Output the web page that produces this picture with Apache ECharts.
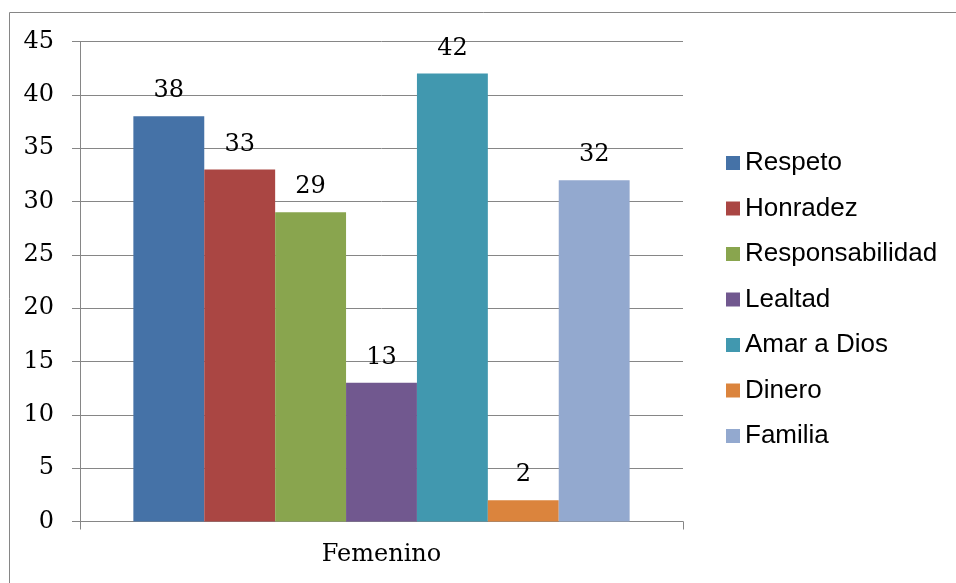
<!DOCTYPE html>
<html>
<head>
<meta charset="utf-8">
<script src="https://cdn.jsdelivr.net/npm/echarts@6/dist/echarts.min.js"></script>
<style>
  html, body { margin: 0; padding: 0; background: #fff; }
  #chart { width: 956px; height: 583px; }
</style>
</head>
<body>
<div id="chart"></div>
<script>
var categories = ['Femenino']
var seriesNames = ['Respeto', 'Honradez', 'Responsabilidad', 'Lealtad', 'Amar a Dios', 'Dinero', 'Familia']
var seriesValues = [38, 33, 29, 13, 42, 2, 32]
var seriesColors = ['#4572A7', '#AA4643', '#89A54E', '#71588F', '#4198AF', '#DB843D', '#93A9CF']
var yTicks = [0, 5, 10, 15, 20, 25, 30, 35, 40, 45]

var serif = 'DejaVu Serif'
var axisGray = '#868686'

var chart = echarts.init(document.getElementById('chart'))

var series = seriesNames.map(function(name, i) {
  return {
    name: name,
    type: 'bar',
    data: [seriesValues[i]],
    barGap: '0%',
    barCategoryGap: '17.7%',
    itemStyle: { color: seriesColors[i] },
    label: {
      show: true,
      position: 'top',
      distance: 13,
      fontFamily: serif,
      fontSize: 24,
      color: '#000'
    }
  }
})

chart.setOption({
  animation: false,
  // outer chart frame, only top and left edges fall inside the picture
  graphic: [{
    type: 'polyline',
    shape: { points: [[9.5, 590], [9.5, 12.5], [960, 12.5]] },
    style: { fill: 'none', stroke: axisGray, lineWidth: 1 },
    silent: true
  }],
  grid: { left: 80, right: 273, top: 41.5, bottom: 61.5 },
  legend: {
    orient: 'vertical',
    left: 726,
    top: 150,
    padding: 0,
    itemWidth: 14,
    itemHeight: 14,
    itemGap: 19.5,
    icon: 'rect',
    data: seriesNames,
    textStyle: {
      fontFamily: 'Liberation Sans',
      fontSize: 26,
      lineHeight: 26,
      color: '#000'
    }
  },
  xAxis: {
    type: 'category',
    data: categories,
    axisLine: { lineStyle: { color: axisGray, width: 1 } },
    axisTick: { show: true, length: 8, lineStyle: { color: axisGray } },
    axisLabel: { fontFamily: serif, fontSize: 24, color: '#000', margin: 21 }
  },
  yAxis: {
    type: 'value',
    min: yTicks[0],
    max: yTicks[yTicks.length - 1],
    interval: 5,
    axisLine: { show: true, lineStyle: { color: axisGray, width: 1 } },
    axisTick: { show: true, length: 8, lineStyle: { color: axisGray } },
    splitLine: { lineStyle: { color: axisGray, width: 1 } },
    axisLabel: { fontFamily: serif, fontSize: 24, color: '#000', margin: 26 }
  },
  series: series
})
</script>
</body>
</html>
